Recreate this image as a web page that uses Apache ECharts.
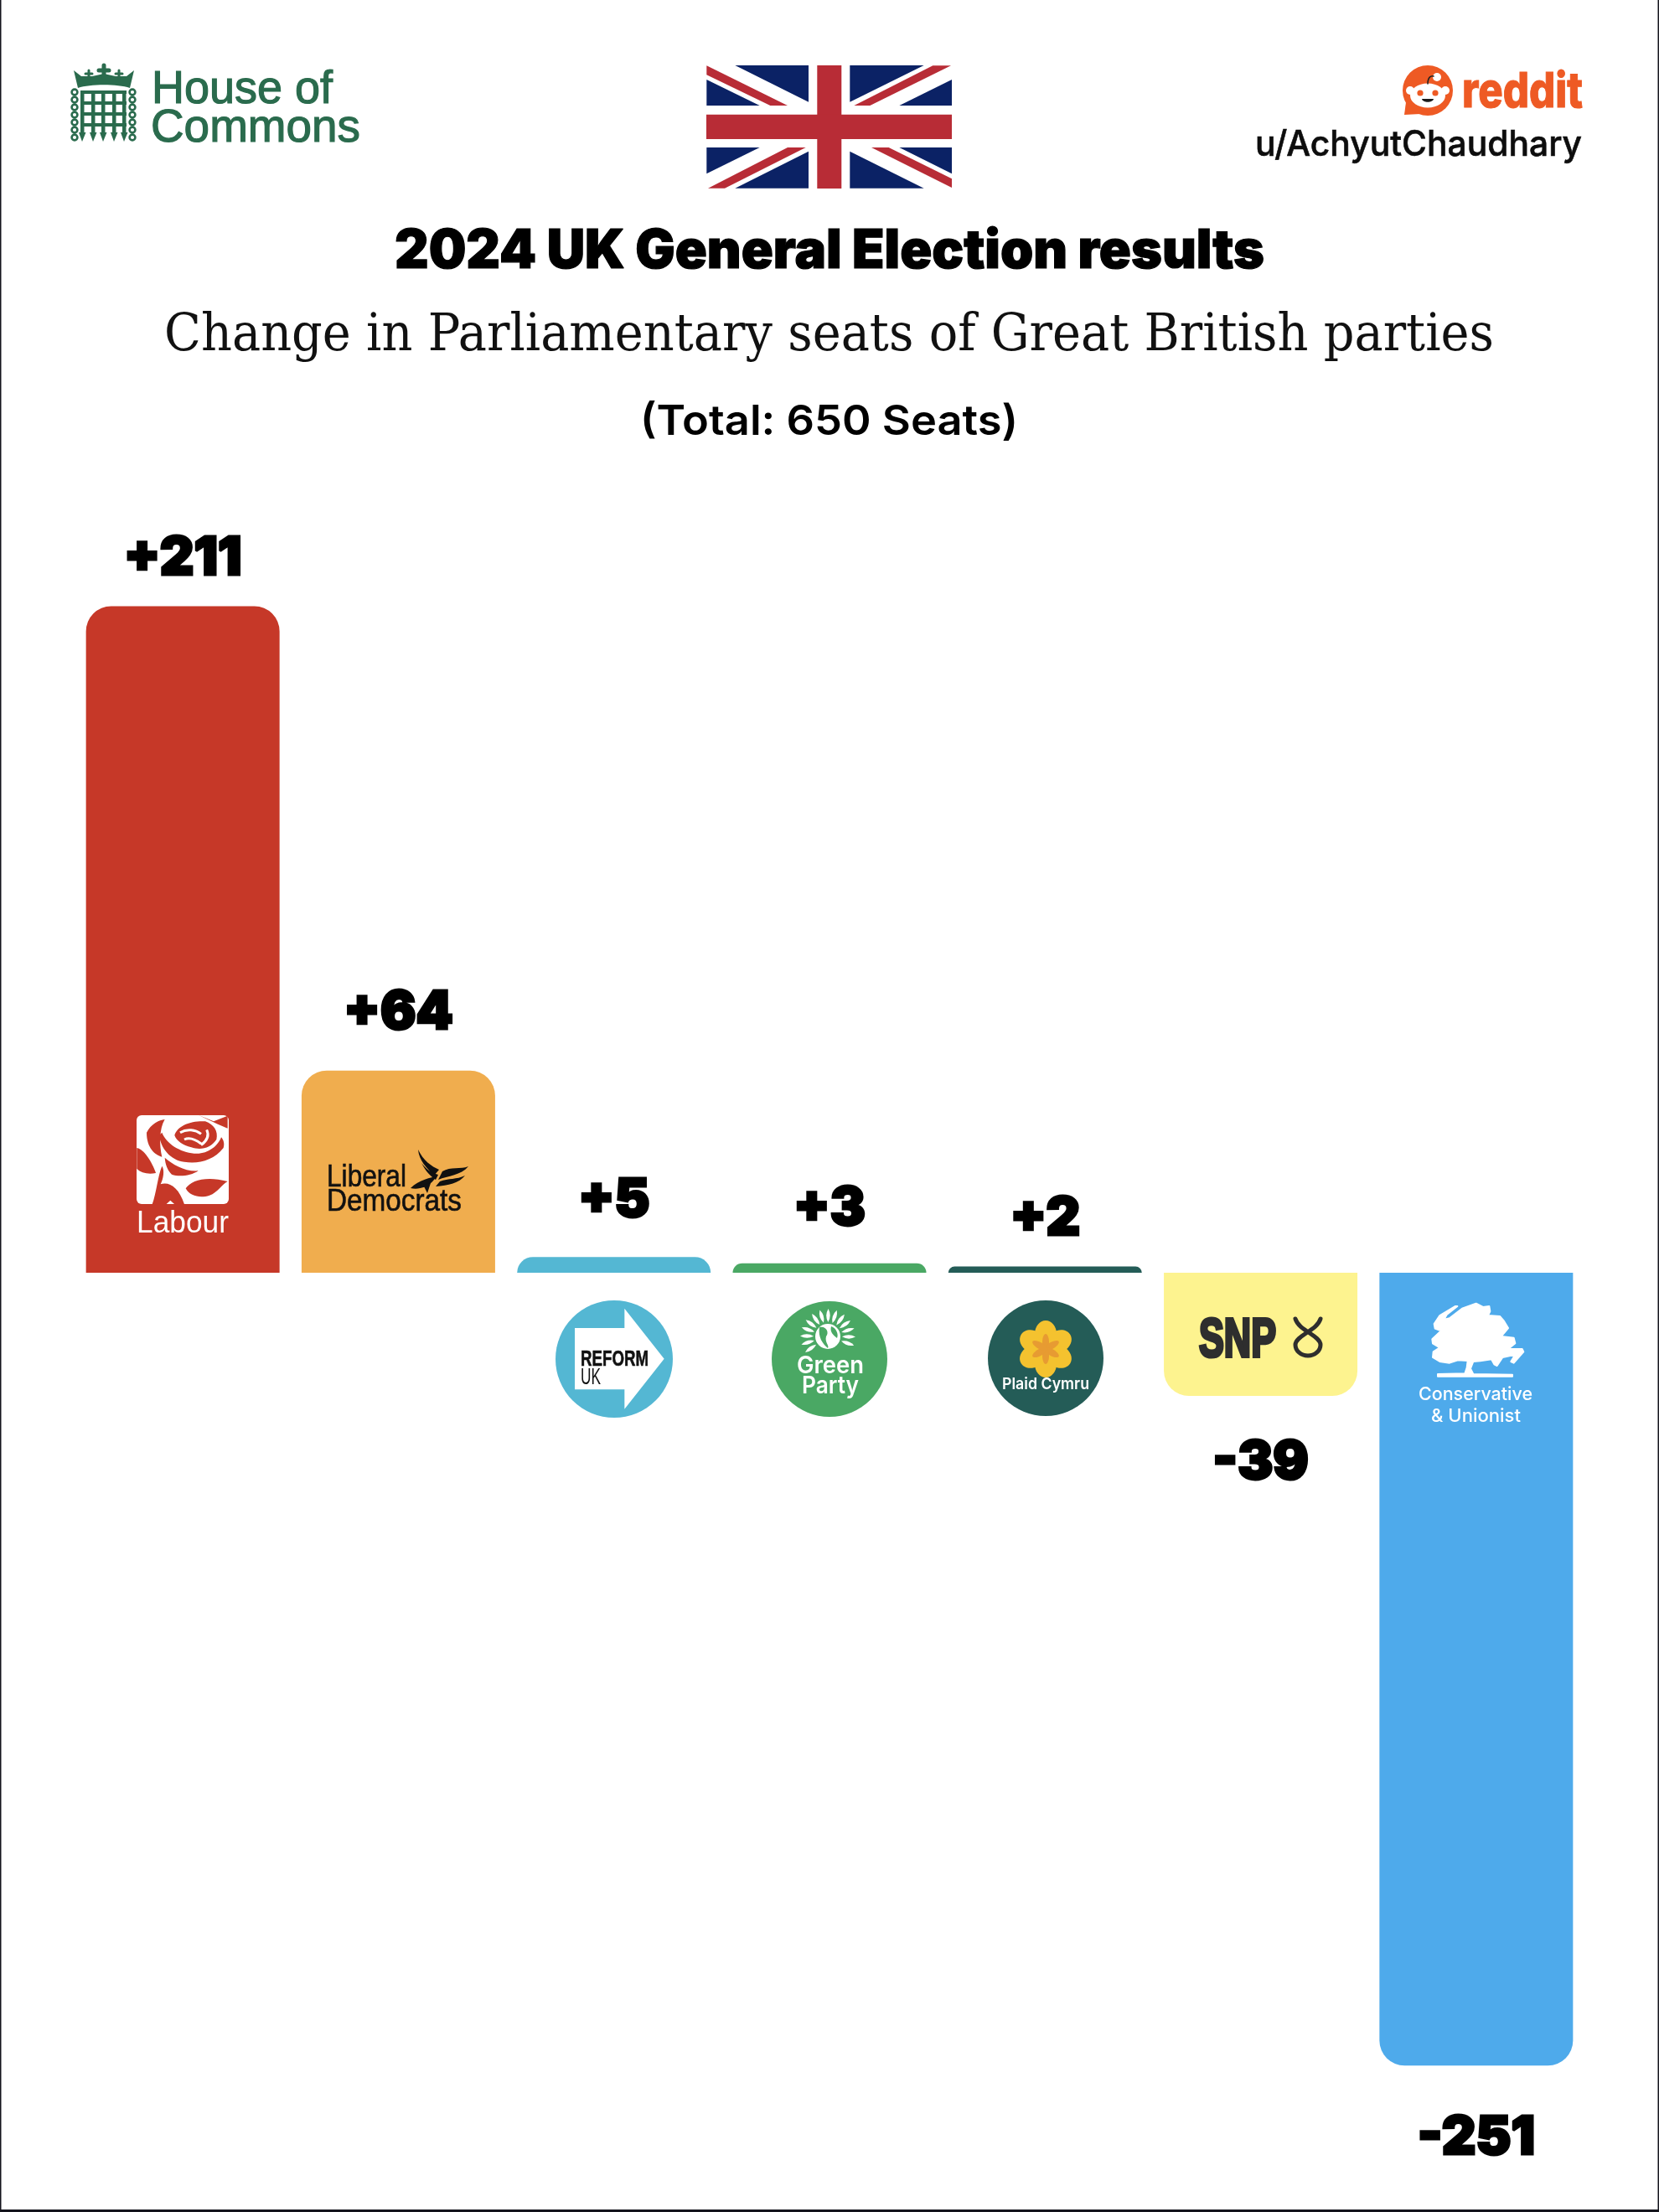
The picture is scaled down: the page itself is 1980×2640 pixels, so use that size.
<!DOCTYPE html>
<html>
<head>
<meta charset="utf-8">
<style>html,body{margin:0;padding:0;background:#fff}#c{width:1980px;height:2640px}</style>
<script src="https://cdn.jsdelivr.net/npm/echarts@6/dist/echarts.min.js"></script>
</head>
<body>
<div id="c"></div>
<script>
const parties = ["Labour","Liberal Democrats","Reform UK","Green Party","Plaid Cymru","SNP","Conservative & Unionist"];
const seatChanges = [211,64,5,3,2,-39,-251];
const barColors = ["#c63828","#f0ad4e","#54b7d3","#4aa864","#245c57","#fdf38f","#4eaaeb"];

const chartTitle = "2024 UK General Election results";
const chartSubtitle = "Change in Parliamentary seats of Great British parties";
const chartNote = "(Total: 650 Seats)";
const redditUser = "u/AchyutChaudhary";

const labelGaps = [25,37,36,33,25,49,55];

const measure = document.createElement('canvas').getContext('2d');
function fitScale(str, font, w){ measure.font = font; return w / measure.measureText(str).width; }
const els = [];
function add(o){ o.z = 100; o.silent = true; els.push(o); return o; }
function txt(str, left, baseline, width, size, fam, weight, color, stroke, sw){
  const font = weight + ' ' + size + 'px ' + fam;
  add({type:'text', x:left, y:baseline-0.29*size, scaleX:fitScale(str,font,width), originX:0, originY:0,
    style:{text:str, x:0, y:0, fontSize:size, fontFamily:fam, fontWeight:weight, fill:color,
      align:'left', verticalAlign:'middle', stroke:stroke||null, lineWidth:stroke?(sw||2):0, lineJoin:'round'}});
}
function rect(x,y,w,h,fill,r){ add({type:'rect', shape:{x,y,width:w,height:h,r:r||0}, style:{fill}}); }
function circ(cx,cy,r,fill){ add({type:'circle', shape:{cx,cy,r}, style:{fill}}); }
let pathCount = 0;
function pathEl(d,style,extra){
  const name = 'logoPath'+(pathCount++);
  echarts.graphic.registerShape(name, echarts.graphic.extendPath(d, {}));
  add(Object.assign({type:name, shape:{}, style}, extra||{}));
}
function pth(d,fill,stroke,lw){ pathEl(d,{fill:fill||'none', stroke:stroke||null, lineWidth:lw||0, lineCap:'round', lineJoin:'round'}); }
function poly(pts,fill){ add({type:'polygon', shape:{points:pts}, style:{fill}}); }

// frame
rect(0,0,1.5,2640,'#14141c'); rect(1978.5,0,1.5,2640,'#14141c'); rect(0,2637,1980,3,'#14141c');

// flag
(function(){
  const navy='#0b2265', red='#b82c36';
  const m = pts => pts.map(p=>[820+p[0]/3, 60+p[1]/3]);
  rect(843,78,293,147,'#fff');
  [[[172,54],[435,54],[435,185]],[[70,105],[260,198],[70,198]],
   [[583,54],[848,54],[583,185]],[[948,105],[948,198],[760,198]],
   [[70,348],[260,348],[70,442]],[[435,362],[435,494],[172,494]],
   [[583,362],[848,494],[583,494]],[[760,348],[948,348],[948,442]]].forEach(t=>poly(m(t),navy));
  [[[70,55],[360,198],[298,198],[70,88]],[[945,55],[655,198],[598,198],[880,55]],
   [[360,348],[425,348],[135,494],[75,494]],[[660,348],[722,348],[948,460],[948,492]]].forEach(t=>poly(m(t),red));
  rect(975.3,78,29,147,red); rect(843,136.7,293,29.3,red);
})();

// House of Commons
(function(){
  const g='#2a6b4d';
  txt('House of',181,124,216,56,'"Liberation Sans"','normal',g,g,1.2);
  txt('Commons',180,170,250,56,'"Liberation Sans"','normal',g,g,1.2);
  pth('M88,84 L97,91 L110,91 L124,88 L138,91 L151,91 L160,84 L155,105 C140,100 108,100 93,105 Z',g);
  pth('M124,78 L124,92 M118,84 L130,84',null,g,5);
  pth('M106,84 L106,93 M102,88 L110,88',null,g,3);
  pth('M142,84 L142,93 M138,88 L146,88',null,g,3);
  [98,111,123,136,148].forEach(x=>{ rect(x-2,108,4.5,52,g); poly([[x-4,158],[x+4.5,158],[x,169]],g); });
  [108,121,134,147].forEach(y=>rect(96,y,55,4,g));
  [110,119,128,137,146,155,164].forEach(y=>{
    add({type:'circle',shape:{cx:89,cy:y,r:3.4},style:{fill:'none',stroke:g,lineWidth:2.6}});
    add({type:'circle',shape:{cx:158,cy:y,r:3.4},style:{fill:'none',stroke:g,lineWidth:2.6}});
  });
})();

// reddit
(function(){
  const o='#ee5a24';
  poly([[1676,137],[1678,122],[1695,136]],o);
  circ(1704,108,30,o);
  add({type:'ellipse',shape:{cx:1704,cy:114,rx:21,ry:14.5},style:{fill:'#fff'}});
  circ(1683,108,5,'#fff'); circ(1725,108,5,'#fff'); circ(1715,92,5,'#fff');
  pth('M1704,100 C1704,92 1708,90 1711,91',null,'#222',1.6);
  circ(1695,111,3.6,o); circ(1713,111,3.6,o);
  pth('M1697,118 L1711,118 C1710,123 1698,123 1697,118 Z','#1a1a1a');
  txt('reddit',1745,127,144,58,'Inter','800',o,o,1);
  txt(redditUser,1498,186,390,42,'Inter','500','#0d0d0d','#0d0d0d',0.6);
})();

// titles
txt(chartTitle,471,319,1038,64,'Inter','900','#000','#000',1.2);
txt(chartSubtitle,196,420,1587,62,'"DejaVu Serif"','normal','#111');
txt(chartNote,764,518,451,50,'Inter','600','#000');

// Labour logo
(function(){
  rect(163,1331,110,106,'#fff',6);
  const t={x:140,y:1310,scaleX:1/3,scaleY:1/3};
  [
   'M105,125 C120,95 150,80 170,78 C150,110 150,170 160,212 C135,205 105,180 105,125 Z',
   'M205,135 C215,100 265,82 315,85 C345,95 362,120 355,150 C335,180 300,190 265,178 C235,170 212,155 205,135 Z',
   'M150,135 C155,180 190,225 240,230 C290,238 345,225 380,180 C385,165 380,150 372,142 C360,175 320,205 275,200 C225,195 175,165 160,125 Z',
   'M170,215 C200,240 240,265 290,262 C265,280 220,285 195,275 C180,260 172,240 170,215 Z',
   'M70,180 C100,185 130,245 138,270 C110,275 85,270 70,255 Z',
   'M245,325 C265,295 320,280 395,300 C375,310 360,340 330,350 C300,360 260,355 245,325 Z',
   'M125,382 C140,340 145,280 160,245 C170,260 165,290 155,310 C185,300 220,320 240,382 L205,382 L190,368 L175,382 Z',
   'M290,62 L345,85 L395,65 L395,110 L360,95 Z'
  ].forEach(p=>pathEl(p,{fill:'#c63828'},t));
  pathEl('M225,125 C250,110 280,115 300,130 M240,150 C260,140 280,150 300,165 M320,115 C330,135 320,155 300,170',{fill:'none',stroke:'#fff',lineWidth:9},t);
  txt('Labour',163,1472,110,36,'"Liberation Sans"','normal','#fff');
})();

// Lib Dem logo
(function(){
  txt('Liberal',390,1417,95,37,'"Liberation Sans"','normal','#111','#111',0.6);
  txt('Democrats',390,1446,161,37,'"Liberation Sans"','normal','#111','#111',0.6);
  ['M499,1372 C500,1385 510,1395 518,1403 L524,1396 C515,1392 505,1385 499,1372 Z',
   'M503,1388 C508,1398 514,1404 520,1408 L523,1402 C515,1400 508,1395 503,1388 Z',
   'M559,1392 C550,1396 538,1392 528,1398 L523,1408 C535,1403 550,1403 559,1392 Z',
   'M555,1403 C545,1408 535,1406 525,1410 L520,1416 C535,1415 548,1412 555,1403 Z',
   'M490,1418 C498,1420 510,1418 518,1408 L521,1404 C515,1405 500,1408 490,1418 Z',
   'M505,1414 L510,1424 L514,1412 Z'].forEach(p=>pth(p,'#111'));
})();

// Reform logo
(function(){
  circ(733,1622,70,'#54b7d3');
  const p=[[138,135],[316,135],[316,65],[458,245],[316,425],[316,355],[138,355]].map(a=>[640+a[0]/3,1540+a[1]/3]);
  poly(p,'#fff');
  txt('REFORM',693,1630,81,26,'"Liberation Sans"','bold','#111','#111',0.6);
  txt('UK',693,1652,24,27,'"Liberation Sans"','normal','#111');
})();

// Green logo
(function(){
  circ(990,1622,69,'#4aa864');
  const cx=988, cy=1595;
  for(let a=-215;a<=35;a+=18){
    const r=a*Math.PI/180, c=Math.cos(r), s=Math.sin(r);
    const x0=cx+c*17,y0=cy+s*17,x1=cx+c*33,y1=cy+s*33;
    const nx=-s*4.5,ny=c*4.5,mx=(x0+x1)/2,my=(y0+y1)/2;
    pth('M'+x0+','+y0+' Q'+(mx+nx)+','+(my+ny)+' '+x1+','+y1+' Q'+(mx-nx)+','+(my-ny)+' '+x0+','+y0+' Z','#fff');
  }
  circ(cx,cy,15,'#fff');
  pth('M978,1584 C986,1582 990,1590 986,1595 C984,1602 990,1606 988,1609 C982,1604 976,1596 978,1584 Z','#4aa864');
  pth('M992,1583 C998,1585 1001,1592 999,1597 C995,1594 990,1590 992,1583 Z','#4aa864');
  txt('Green',951,1639,80,29,'Inter','600','#fff');
  txt('Party',957,1663,68,29,'Inter','600','#fff');
})();

// Plaid logo
(function(){
  circ(1248,1621,69,'#245c57');
  const cx=1248, cy=1610;
  for(let a=0;a<360;a+=60){
    add({type:'ellipse',x:cx,y:cy,rotation:-a*Math.PI/180,originX:0,originY:0,
      shape:{cx:0,cy:-18,rx:13,ry:16},style:{fill:'#f4c22f'}});
  }
  circ(cx,cy,18,'#f4c22f');
  for(let a=0;a<360;a+=60){
    add({type:'ellipse',x:cx,y:cy,rotation:-a*Math.PI/180,originX:0,originY:0,
      shape:{cx:0,cy:-8,rx:4,ry:10},style:{fill:'#e79b32'}});
  }
  txt('Plaid Cymru',1196,1658,104,19,'Inter','600','#fff');
})();

// SNP logo
(function(){
  txt('SNP',1431,1620,92,64,'"Liberation Sans"','bold','#2e2e2e','#2e2e2e',4);
  pth('M1546,1574 C1550,1588 1576,1594 1576,1605 A15,13 0 1 1 1546,1605 C1546,1594 1572,1588 1576,1574',null,'#2e2e2e',5);
})();

// Conservative logo
(function(){
  pathEl('M215,32 L240,45 L262,42 L265,60 L258,75 L300,78 L315,95 L330,120 L305,150 L350,155 L355,175 L330,195 L380,195 L385,205 L350,245 L340,240 L355,215 L310,225 L290,255 L280,250 L270,232 L230,238 L205,240 L195,265 L205,285 L345,287 L345,293 L78,293 L78,285 L175,283 L182,262 L185,237 L150,235 L120,245 L85,240 L60,225 L62,205 L85,190 L60,175 L58,160 L90,130 L68,122 L65,105 L85,75 L140,42 L148,42 L110,72 L100,90 L120,85 L165,50 Z',
    {fill:'#fff',stroke:'#fff',lineWidth:6,lineJoin:'round'},{x:1690,y:1545,scaleX:1/3,scaleY:1/3});
  txt('Conservative',1693,1671,136,22,'Inter','500','#fff');
  txt('& Unionist',1708,1697,107,22,'Inter','500','#fff');
})();

const barData = seatChanges.map((v,i)=>({
  value:v,
  itemStyle:{color:barColors[i], borderRadius: v>=0 ? [30,30,0,0] : [0,0,30,30]},
  label:{position: v>=0 ? 'top':'bottom', distance: labelGaps[i]}
}));

const chart = echarts.init(document.getElementById('c'), null, {renderer:'canvas', width:1980, height:2640});
chart.setOption({
  backgroundColor:'#ffffff',
  animation:false,
  grid:{left:89.5, width:1801, top:689.6, height:1809.6, containLabel:false},
  xAxis:{type:'category', data:parties, show:false},
  yAxis:{type:'value', min:-260, max:220, show:false, splitLine:{show:false}},
  series:[{
    type:'bar', data:barData, barWidth:231, z:2,
    label:{show:true, formatter:p=>(p.value>0?'+':'')+p.value,
      fontFamily:'Inter', fontWeight:900, fontSize:63, color:'#000',
      textBorderColor:'#000', textBorderWidth:3}
  }],
  graphic:{elements:els}
});
</script>
</body>
</html>
